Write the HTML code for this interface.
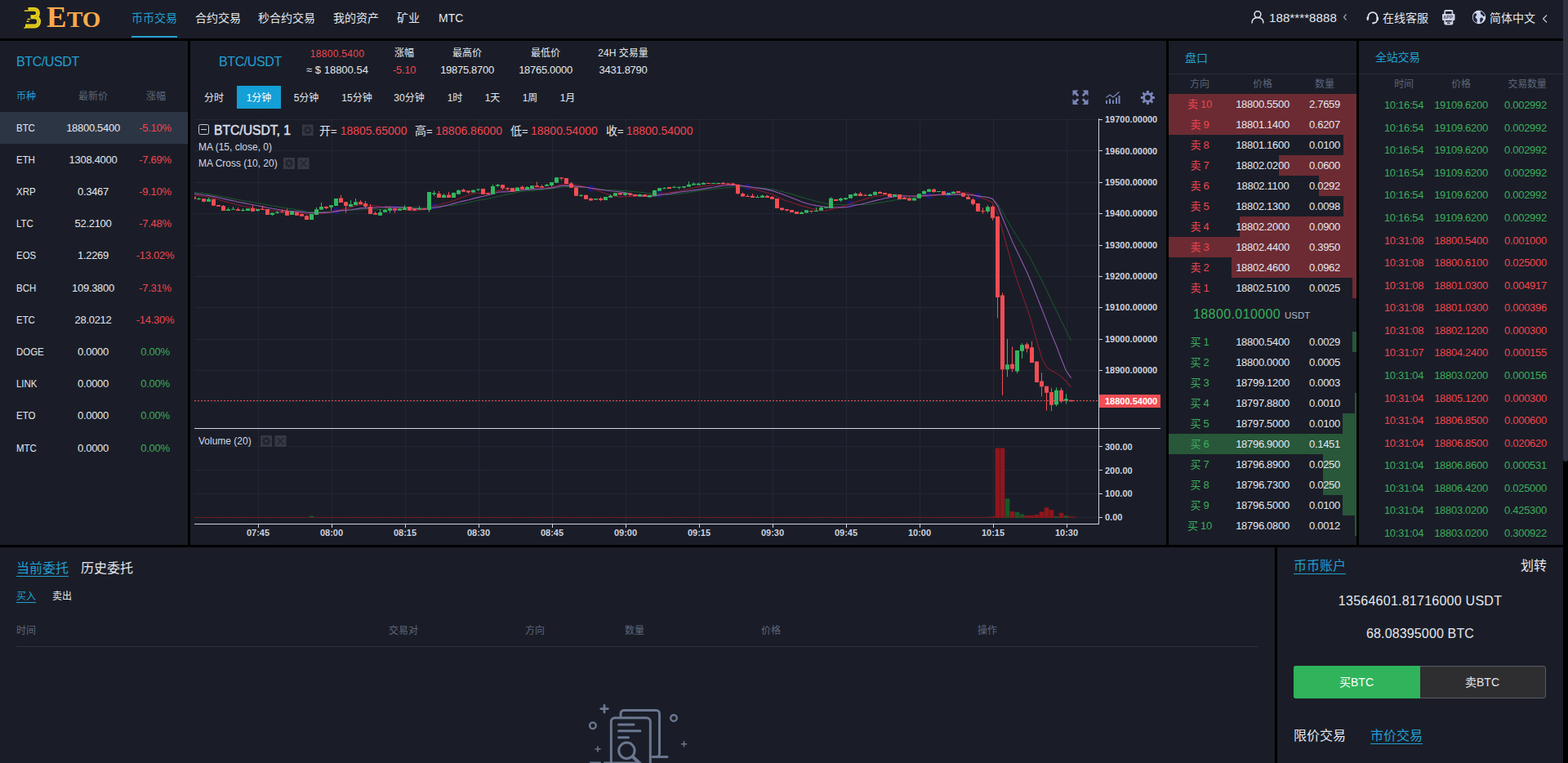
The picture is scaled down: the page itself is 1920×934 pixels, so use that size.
<!DOCTYPE html>
<html lang="zh"><head><meta charset="utf-8"><title>ETO</title>
<style>
*{box-sizing:border-box;margin:0;padding:0}
html,body{width:1920px;height:934px;overflow:hidden;background:#000}
body{font-family:"Liberation Sans","Noto Sans CJK SC",sans-serif;color:#e4e7ee;font-size:13px;position:relative}
.abs{position:absolute}
.pn{position:absolute;background:#1a1d27}
.t{position:absolute;white-space:nowrap;line-height:1}
.c{transform:translateX(-50%)}
.r{transform:translateX(-100%)}
.blue{color:#239fd3}
.red{color:#f0454f}
.grn{color:#3cad5c}
.gry{color:#5d667a}
.wht{color:#e4e7ee}
.u{border-bottom:1px solid #239fd3;padding-bottom:1px}
/* nav */
#nav .t{font-size:14px}
/* left list */
.row{position:absolute;left:0;width:230px;height:39px}
.row .t{top:13px;font-size:13px;letter-spacing:-.3px}
.row .nm{transform:scaleX(.88);transform-origin:0 50%;letter-spacing:0}
/* orderbook */
.ob{position:absolute;left:0;width:230px;height:25px}
.ob i{position:absolute;right:0;top:0;height:25px;display:block}
.ob .t{top:6px;font-size:13px;letter-spacing:-.3px}
.sell i{background:#6c2b33}
.buy i{background:#28573a}
.tr .t{font-size:13px;letter-spacing:-.3px}
</style></head>
<body>
<!-- ===== NAV ===== -->
<div id="nav" class="pn" style="left:0;top:0;width:1914px;height:47px">
<svg class="abs" style="left:26px;top:5px" width="28" height="34" viewBox="26 5 28 34" fill="none" stroke-linecap="butt"><path d="M34.5 11.4H42C48 11.4 48 20.3 42 20.8H37.5M42 20.8C49.5 21 49.5 32 42 32H31" stroke="#e6d01c" stroke-width="4.9"/><path d="M29.500 34.700l3-2.700M30 13.300h4.500M33.500 23.500h3.500M32.500 26.200h3" stroke="#e6d01c" stroke-width="1.400"/><path d="M36 11.400H42.500C47.500 11.400 47.500 20.600 42.500 20.800C48.800 21 48.800 32 42.500 32H33" stroke="#b79f10" stroke-width=".8"/></svg>
<span class="t" style="left:56.500px;top:3px;font-family:'Liberation Serif',serif;font-weight:bold;font-size:35px;color:#f9aa4e;line-height:38px;letter-spacing:.5px;transform:scaleX(1.05);transform-origin:0 0">E<span style="font-size:27.600px;letter-spacing:0">TO</span></span>

<span class="t blue" style="left:161px;top:15px">币币交易</span>
<div class="abs" style="left:161px;top:44px;width:56px;height:2px;background:#239fd3"></div>
<span class="t" style="left:239px;top:15px">合约交易</span>
<span class="t" style="left:316px;top:15px">秒合约交易</span>
<span class="t" style="left:408px;top:15px">我的资产</span>
<span class="t" style="left:486px;top:15px">矿业</span>
<span class="t" style="left:537px;top:15px;font-size:14px">MTC</span>
<svg class="abs" style="left:1530px;top:10px" width="22" height="24" viewBox="1530 10 22 24" fill="none" stroke="#dfe3ee" stroke-width="1.5"><circle cx="1540" cy="17.6" r="3.9"/><path d="M1533 28.6c0-4.6 3-7 7-7s7 2.4 7 7"/></svg>
<span class="t" style="left:1554px;top:14px;font-size:15px;letter-spacing:.1px">188****8888</span>
<svg class="abs" style="left:1643px;top:15px" width="8" height="12" viewBox="0 0 8 12" fill="none" stroke="#9aa0b0" stroke-width="1.2"><path d="M5.5 2.5L2.5 6l3 3.5"/></svg>
<svg class="abs" style="left:1672px;top:12px" width="18" height="20" viewBox="1672 11 18 20" fill="none" stroke="#dfe3ee" stroke-width="1.7"><path d="M1675.3 22v-2.4a5.5 5.5 0 0 1 11 0V23a4.5 4.5 0 0 1-4 4.2"/><rect x="1673.6" y="19.5" width="2.2" height="4.5" rx="1" fill="#dfe3ee" stroke="none"/><rect x="1685.8" y="19.5" width="2.2" height="4.5" rx="1" fill="#dfe3ee" stroke="none"/><circle cx="1681.6" cy="27.3" r="1.2" fill="#dfe3ee" stroke="none"/></svg>
<span class="t" style="left:1693px;top:15px">在线客服</span>
<svg class="abs" style="left:1764px;top:10px" width="20" height="22" viewBox="1764 10 20 22"><rect x="1768.3" y="12" width="11" height="18.5" rx="2" fill="#cdd2e6"/><rect x="1770" y="14" width="7.6" height="12.5" fill="#1a1d27"/><rect x="1766" y="17" width="15.5" height="8" rx="1" fill="#cdd2e6"/><path d="M1768 23l1.2-4 1.2 4M1772 23v-4h1.5a1 1 0 0 1 0 2.2h-1.5M1776 23v-4h1.5a1 1 0 0 1 0 2.2h-1.5" stroke="#3a4160" stroke-width=".8" fill="none"/><rect x="1772" y="27.6" width="3.6" height="1.2" fill="#1a1d27"/></svg>
<svg class="abs" style="left:1801px;top:11px" width="20" height="20" viewBox="1801 11 20 20"><circle cx="1811" cy="21" r="7.6" fill="#cdd5ee" stroke="#dfe3ee" stroke-width="1.2"/><path d="M1806 16.2c1.5-.3 2.6.6 2.2 2-.3 1.2-1.8 1.4-1.6 2.8.2 1.5 2 1.6 2.2 3.2.1 1.2-.5 2.6-.2 3.8-2.8-.8-5-3.600-5-7 0-1.900.9-3.600 2.400-4.800zM1812.500 13.800c2.800.5 5.400 2.800 5.800 6-1 .6-2.100.3-2.600-.600-.600-1.200-2.200-.8-2.600-2.100-.300-1.100.200-2.300-.600-3.300zM1813.200 21.500c1.200-.4 2.500.2 2.800 1.400.3 1.300-.7 2.300-1.500 3.300-.5.600-1 1.600-1.800 1.500-.7-1.900-.9-4.900.5-6.200z" fill="#1f2540"/></svg>
<span class="t" style="left:1824px;top:15px">简体中文</span>
<svg class="abs" style="left:1887px;top:16px" width="10" height="14" viewBox="0 0 10 14" fill="none" stroke="#c5cad6" stroke-width="1.2"><path d="M7 2.500L2.600 7l4.400 4.500"/></svg>

</div>
<!-- ===== LEFT ===== -->
<div id="left" class="pn" style="left:0;top:50px;width:230px;height:617px">
<span class="t blue" style="left:20px;top:18px;font-size:16px;letter-spacing:-.4px">BTC/USDT</span>
<span class="t blue" style="left:20px;top:62px;font-size:12px">币种</span>
<span class="t gry c" style="left:114px;top:62px;font-size:12px">最新价</span>
<span class="t gry c" style="left:191px;top:62px;font-size:12px">涨幅</span>
<div class="row" style="top:86.5px;background:#2c3544"><span class="t nm" style="left:20px">BTC</span><span class="t c" style="left:114px">18800.5400</span><span class="t c red" style="left:190px">-5.10%</span></div>
<div class="row" style="top:125.7px"><span class="t nm" style="left:20px">ETH</span><span class="t c" style="left:114px">1308.4000</span><span class="t c red" style="left:190px">-7.69%</span></div>
<div class="row" style="top:164.9px"><span class="t nm" style="left:20px">XRP</span><span class="t c" style="left:114px">0.3467</span><span class="t c red" style="left:190px">-9.10%</span></div>
<div class="row" style="top:204.1px"><span class="t nm" style="left:20px">LTC</span><span class="t c" style="left:114px">52.2100</span><span class="t c red" style="left:190px">-7.48%</span></div>
<div class="row" style="top:243.3px"><span class="t nm" style="left:20px">EOS</span><span class="t c" style="left:114px">1.2269</span><span class="t c red" style="left:190px">-13.02%</span></div>
<div class="row" style="top:282.5px"><span class="t nm" style="left:20px">BCH</span><span class="t c" style="left:114px">109.3800</span><span class="t c red" style="left:190px">-7.31%</span></div>
<div class="row" style="top:321.7px"><span class="t nm" style="left:20px">ETC</span><span class="t c" style="left:114px">28.0212</span><span class="t c red" style="left:190px">-14.30%</span></div>
<div class="row" style="top:360.9px"><span class="t nm" style="left:20px">DOGE</span><span class="t c" style="left:114px">0.0000</span><span class="t c grn" style="left:190px">0.00%</span></div>
<div class="row" style="top:400.1px"><span class="t nm" style="left:20px">LINK</span><span class="t c" style="left:114px">0.0000</span><span class="t c grn" style="left:190px">0.00%</span></div>
<div class="row" style="top:439.3px"><span class="t nm" style="left:20px">ETO</span><span class="t c" style="left:114px">0.0000</span><span class="t c grn" style="left:190px">0.00%</span></div>
<div class="row" style="top:478.5px"><span class="t nm" style="left:20px">MTC</span><span class="t c" style="left:114px">0.0000</span><span class="t c grn" style="left:190px">0.00%</span></div>

</div>
<!-- ===== CHART ===== -->
<div id="chart" class="pn" style="left:233px;top:50px;width:1195px;height:617px">
<span class="t blue" style="left:35px;top:18px;font-size:16px;letter-spacing:-.4px">BTC/USDT</span>
<span class="t c red" style="left:180px;top:9.5px;font-size:12px;letter-spacing:.3px">18800.5400</span><span class="t c" style="left:180px;top:29px">≈ $ 18800.54</span>
<span class="t c" style="left:262px;top:9px;font-size:12px">涨幅</span><span class="t c red" style="left:262px;top:29px;letter-spacing:-.3px">-5.10</span>
<span class="t c" style="left:339px;top:9px;font-size:12px">最高价</span><span class="t c " style="left:339px;top:29px;letter-spacing:-.3px">19875.8700</span>
<span class="t c" style="left:435px;top:9px;font-size:12px">最低价</span><span class="t c " style="left:435px;top:29px;letter-spacing:-.3px">18765.0000</span>
<span class="t c" style="left:530px;top:9px;font-size:12px">24H 交易量</span><span class="t c " style="left:530px;top:29px;letter-spacing:-.3px">3431.8790</span>
<div class="abs" style="left:57px;top:55px;width:54px;height:28px;background:#149fd6"></div>
<span class="t c" style="left:29px;top:64px;font-size:12px;color:#e4e7ee">分时</span>
<span class="t c" style="left:84px;top:64px;font-size:12px;color:#fff">1分钟</span>
<span class="t c" style="left:142px;top:64px;font-size:12px;color:#e4e7ee">5分钟</span>
<span class="t c" style="left:204px;top:64px;font-size:12px;color:#e4e7ee">15分钟</span>
<span class="t c" style="left:268px;top:64px;font-size:12px;color:#e4e7ee">30分钟</span>
<span class="t c" style="left:324px;top:64px;font-size:12px;color:#e4e7ee">1时</span>
<span class="t c" style="left:370px;top:64px;font-size:12px;color:#e4e7ee">1天</span>
<span class="t c" style="left:416px;top:64px;font-size:12px;color:#e4e7ee">1周</span>
<span class="t c" style="left:462px;top:64px;font-size:12px;color:#e4e7ee">1月</span>

<svg class="abs" style="left:0;top:0" width="1195" height="617" viewBox="233 50 1195 617" font-family="Liberation Sans, sans-serif">
<defs><clipPath id="cp"><rect x="238" y="145" width="1107" height="496"/></clipPath></defs>
<path d="M316 145V641M406 145V641M496 145V641M586 145V641M676 145V641M766 145V641M856 145V641M946 145V641M1036 145V641M1126 145V641M1216 145V641M1306 145V641M238 146.5H1345M238 184.9H1345M238 223.2H1345M238 261.6H1345M238 300.0H1345M238 338.4H1345M238 376.7H1345M238 415.1H1345M238 453.5H1345M238 491.8H1345M238 546.8H1345M238 575.7H1345M238 604.6H1345M238 633.5H1345" stroke="#232735" stroke-width="1" fill="none" shape-rendering="crispEdges"/>
<g clip-path="url(#cp)">
<circle cx="411.5" cy="258.0" r="4.2" fill="#1818a8" opacity=".6"/>
<circle cx="483.5" cy="255.4" r="4.2" fill="#1818a8" opacity=".6"/>
<circle cx="531.5" cy="252.6" r="4.2" fill="#1818a8" opacity=".6"/>
<circle cx="723.5" cy="230.5" r="4.2" fill="#1818a8" opacity=".6"/>
<circle cx="807.5" cy="237.6" r="4.2" fill="#1818a8" opacity=".6"/>
<circle cx="915.5" cy="229.1" r="4.2" fill="#1818a8" opacity=".6"/>
<circle cx="1041.5" cy="250.0" r="4.2" fill="#1818a8" opacity=".6"/>
<circle cx="1137.5" cy="239.6" r="4.2" fill="#1818a8" opacity=".6"/>
<circle cx="1161.5" cy="238.1" r="4.2" fill="#1818a8" opacity=".6"/>
<circle cx="1197.5" cy="240.4" r="4.2" fill="#1818a8" opacity=".6"/>
<path d="M237.5 235.3L243.5 236.0L249.5 236.9L255.5 237.6L261.5 238.6L267.5 239.7L273.5 241.0L279.5 242.1L285.5 243.3L291.5 244.5L297.5 245.6L303.5 246.5L309.5 247.7L315.5 248.6L321.5 249.6L327.5 250.8L333.5 251.9L339.5 252.9L345.5 253.9L351.5 255.0L357.5 255.8L363.5 256.8L369.5 257.7L375.5 259.0L381.5 259.5L387.5 259.6L393.5 259.4L399.5 259.3L405.5 259.1L411.5 258.4L417.5 257.9L423.5 257.8L429.5 257.3L435.5 256.9L441.5 256.5L447.5 256.0L453.5 256.1L459.5 256.3L465.5 256.3L471.5 255.9L477.5 255.8L483.5 255.4L489.5 255.0L495.5 254.2L501.5 254.0L507.5 254.1L513.5 254.2L519.5 254.3L525.5 253.4L531.5 253.1L537.5 252.8L543.5 252.2L549.5 251.8L555.5 251.2L561.5 250.3L567.5 249.4L573.5 248.1L579.5 246.6L585.5 245.2L591.5 244.2L597.5 243.4L603.5 241.9L609.5 240.4L615.5 239.2L621.5 237.9L627.5 236.8L633.5 235.5L639.5 234.3L645.5 234.0L651.5 233.5L657.5 232.9L663.5 232.4L669.5 231.6L675.5 230.9L681.5 230.2L687.5 229.3L693.5 228.8L699.5 228.7L705.5 229.1L711.5 229.1L717.5 229.4L723.5 230.3L729.5 231.1L735.5 231.8L741.5 232.3L747.5 232.6L753.5 232.9L759.5 233.3L765.5 233.6L771.5 234.2L777.5 234.8L783.5 235.2L789.5 235.9L795.5 236.7L801.5 237.5L807.5 238.1L813.5 238.4L819.5 238.4L825.5 237.9L831.5 237.4L837.5 236.6L843.5 235.6L849.5 234.7L855.5 233.7L861.5 232.8L867.5 232.1L873.5 231.5L879.5 230.7L885.5 230.2L891.5 229.5L897.5 228.8L903.5 228.8L909.5 228.8L915.5 228.9L921.5 229.3L927.5 229.9L933.5 230.3L939.5 230.9L945.5 231.6L951.5 232.9L957.5 234.4L963.5 236.0L969.5 237.7L975.5 239.6L981.5 241.4L987.5 243.0L993.5 244.8L999.5 246.5L1005.5 247.9L1011.5 249.3L1017.5 250.1L1023.5 250.6L1029.5 250.7L1035.5 250.8L1041.5 250.6L1047.5 250.3L1053.5 250.4L1059.5 250.3L1065.5 250.0L1071.5 249.0L1077.5 248.0L1083.5 247.0L1089.5 246.1L1095.5 244.9L1101.5 244.0L1107.5 243.4L1113.5 242.7L1119.5 241.9L1125.5 241.1L1131.5 240.1L1137.5 239.6L1143.5 239.0L1149.5 238.6L1155.5 238.4L1161.5 238.3L1167.5 238.2L1173.5 238.0L1179.5 238.0L1185.5 238.3L1191.5 239.1L1197.5 240.2L1203.5 241.2L1209.5 241.8L1215.5 243.3L1221.5 249.3L1227.5 259.7L1233.5 269.7L1239.5 280.1L1245.5 289.7L1251.5 299.2L1257.5 308.9L1263.5 319.4L1269.5 331.1L1275.5 342.8L1281.5 355.0L1287.5 368.1L1293.5 380.2L1299.5 392.7L1305.5 404.9L1311.5 417.0" stroke="#1a5a30" stroke-width="1" fill="none"/>
<path d="M237.5 238.9L243.5 239.6L249.5 240.7L255.5 241.3L261.5 242.7L267.5 244.2L273.5 246.1L279.5 247.7L285.5 249.3L291.5 251.0L297.5 252.3L303.5 253.5L309.5 254.7L315.5 255.9L321.5 256.4L327.5 257.5L333.5 257.7L339.5 258.0L345.5 258.5L351.5 259.0L357.5 259.2L363.5 260.1L369.5 260.7L375.5 262.0L381.5 262.5L387.5 261.8L393.5 261.1L399.5 260.6L405.5 259.8L411.5 257.7L417.5 256.6L423.5 255.4L429.5 253.9L435.5 251.8L441.5 250.6L447.5 250.2L453.5 251.2L459.5 251.9L465.5 252.8L471.5 254.2L477.5 254.9L483.5 255.4L489.5 256.0L495.5 256.7L501.5 257.5L507.5 257.9L513.5 257.2L519.5 256.6L525.5 254.1L531.5 252.0L537.5 250.7L543.5 248.8L549.5 247.5L555.5 245.7L561.5 243.2L567.5 240.9L573.5 239.0L579.5 236.6L585.5 236.3L591.5 236.4L597.5 236.0L603.5 234.9L609.5 233.4L615.5 232.8L621.5 232.7L627.5 232.7L633.5 232.0L639.5 231.9L645.5 231.7L651.5 230.6L657.5 229.7L663.5 229.8L669.5 229.8L675.5 229.1L681.5 227.7L687.5 226.0L693.5 225.6L699.5 225.4L705.5 226.5L711.5 227.6L717.5 229.1L723.5 230.7L729.5 232.4L735.5 234.6L741.5 237.0L747.5 239.1L753.5 240.3L759.5 241.1L765.5 240.8L771.5 240.8L777.5 240.4L783.5 239.7L789.5 239.4L795.5 238.8L801.5 238.0L807.5 237.1L813.5 236.5L819.5 235.7L825.5 235.0L831.5 234.0L837.5 232.8L843.5 231.6L849.5 230.0L855.5 228.6L861.5 227.7L867.5 227.1L873.5 226.5L879.5 225.8L885.5 225.4L891.5 225.1L897.5 224.9L903.5 226.0L909.5 227.6L915.5 229.2L921.5 231.0L927.5 232.7L933.5 234.2L939.5 236.0L945.5 237.8L951.5 240.8L957.5 243.8L963.5 245.9L969.5 247.8L975.5 249.9L981.5 251.7L987.5 253.4L993.5 255.3L999.5 256.9L1005.5 258.0L1011.5 257.8L1017.5 256.4L1023.5 255.2L1029.5 253.5L1035.5 251.6L1041.5 249.4L1047.5 247.3L1053.5 245.4L1059.5 243.6L1065.5 242.0L1071.5 240.2L1077.5 239.6L1083.5 238.8L1089.5 238.6L1095.5 238.1L1101.5 238.7L1107.5 239.4L1113.5 240.0L1119.5 240.3L1125.5 240.2L1131.5 240.1L1137.5 239.6L1143.5 239.3L1149.5 238.6L1155.5 238.6L1161.5 237.8L1167.5 236.9L1173.5 236.0L1179.5 235.8L1185.5 236.4L1191.5 238.0L1197.5 240.7L1203.5 243.1L1209.5 245.1L1215.5 247.9L1221.5 260.7L1227.5 282.4L1233.5 303.5L1239.5 324.6L1245.5 343.1L1251.5 360.3L1257.5 377.1L1263.5 395.6L1269.5 417.1L1275.5 437.7L1281.5 449.4L1287.5 453.8L1293.5 456.9L1299.5 460.9L1305.5 466.8L1311.5 473.7" stroke="#861c32" stroke-width="1.1" fill="none"/>
<path d="M237.5 237.1L243.5 237.8L249.5 238.7L255.5 239.4L261.5 240.6L267.5 241.8L273.5 243.2L279.5 244.6L285.5 245.8L291.5 247.2L297.5 248.4L303.5 249.5L309.5 250.8L315.5 251.8L321.5 252.9L327.5 254.2L333.5 255.3L339.5 256.2L345.5 257.3L351.5 258.1L357.5 258.5L363.5 258.9L369.5 259.4L375.5 260.3L381.5 260.6L387.5 260.5L393.5 260.4L399.5 260.1L405.5 259.8L411.5 258.9L417.5 257.9L423.5 257.3L429.5 256.7L435.5 255.9L441.5 254.9L447.5 254.6L453.5 254.4L459.5 254.3L465.5 253.7L471.5 253.4L477.5 253.3L483.5 253.6L489.5 253.6L495.5 253.8L501.5 254.8L507.5 255.4L513.5 255.6L519.5 256.1L525.5 255.2L531.5 254.3L537.5 253.6L543.5 252.1L549.5 250.7L555.5 249.1L561.5 247.5L567.5 246.1L573.5 244.7L579.5 243.1L585.5 241.6L591.5 240.3L597.5 239.0L603.5 237.2L609.5 235.2L615.5 234.9L621.5 234.6L627.5 234.1L633.5 233.4L639.5 232.7L645.5 232.3L651.5 231.9L657.5 231.5L663.5 231.1L669.5 230.7L675.5 230.1L681.5 228.7L687.5 227.4L693.5 227.2L699.5 227.4L705.5 228.1L711.5 228.6L717.5 229.2L723.5 230.2L729.5 231.0L735.5 232.1L741.5 233.0L747.5 233.7L753.5 234.2L759.5 235.0L765.5 235.9L771.5 237.3L777.5 238.7L783.5 239.6L789.5 240.3L795.5 240.3L801.5 239.9L807.5 239.0L813.5 238.0L819.5 237.2L825.5 236.1L831.5 235.3L837.5 234.5L843.5 233.8L849.5 232.9L855.5 232.1L861.5 231.1L867.5 230.1L873.5 229.2L879.5 228.1L885.5 227.2L891.5 226.7L897.5 226.4L903.5 226.8L909.5 227.5L915.5 228.3L921.5 229.2L927.5 230.1L933.5 230.9L939.5 232.1L945.5 233.4L951.5 235.4L957.5 237.6L963.5 239.8L969.5 242.2L975.5 244.6L981.5 246.9L987.5 249.0L993.5 250.5L999.5 251.6L1005.5 252.5L1011.5 253.3L1017.5 253.4L1023.5 253.8L1029.5 253.9L1035.5 253.8L1041.5 252.7L1047.5 251.3L1053.5 250.2L1059.5 248.8L1065.5 247.2L1071.5 245.6L1077.5 244.2L1083.5 242.8L1089.5 241.7L1095.5 240.6L1101.5 239.9L1107.5 240.0L1113.5 240.0L1119.5 240.0L1125.5 239.7L1131.5 239.4L1137.5 239.0L1143.5 238.7L1149.5 238.3L1155.5 238.3L1161.5 238.4L1167.5 238.3L1173.5 238.1L1179.5 238.1L1185.5 238.5L1191.5 238.9L1197.5 239.9L1203.5 240.8L1209.5 241.5L1215.5 243.5L1221.5 252.1L1227.5 266.8L1233.5 280.9L1239.5 295.4L1245.5 308.1L1251.5 320.5L1257.5 333.3L1263.5 347.2L1269.5 362.4L1275.5 377.7L1281.5 393.1L1287.5 408.9L1293.5 423.4L1299.5 439.3L1305.5 454.1L1311.5 462.6" stroke="#9558b2" stroke-width="1.1" fill="none"/>
<path d="M237.5 240.8V243.8M249.5 243.2V247.7M261.5 243.8V251.7M267.5 251.0V252.7M273.5 251.0V258.0M291.5 254.0V258.0M309.5 251.2V258.8M321.5 252.0V256.7M327.5 256.0V263.0M345.5 256.2V260.0M351.5 255.4V263.8M363.5 259.5V263.8M369.5 261.5V264.8M375.5 263.5V269.0M399.5 252.2V256.0M417.5 238.8V248.0M423.5 247.2V260.6M441.5 245.2V250.0M447.5 246.0V254.0M453.5 250.0V262.0M459.5 259.0V262.8M483.5 255.2V260.6M501.5 253.0V258.0M507.5 255.0V258.0M519.5 255.2V256.5M537.5 234.0V242.0M549.5 235.0V242.0M567.5 231.0V234.8M573.5 233.5V237.0M591.5 231.0V237.8M597.5 236.0V238.0M615.5 226.2V232.0M621.5 229.4V233.0M627.5 230.0V234.8M639.5 227.2V231.5M657.5 222.5V229.0M663.5 226.2V229.4M687.5 217.2V220.6M693.5 218.0V225.0M699.5 222.8V229.8M705.5 229.4V239.8M717.5 238.8V243.8M723.5 242.2V245.6M735.5 241.5V246.2M759.5 236.0V238.5M771.5 236.5V240.0M777.5 238.0V240.5M789.5 238.0V240.6M819.5 229.0V231.0M867.5 224.0V224.8M885.5 222.8V225.2M891.5 224.0V225.6M897.5 223.8V226.2M903.5 226.0V238.0M909.5 235.6V240.6M915.5 238.0V241.0M921.5 237.0V241.9M939.5 238.8V241.9M945.5 240.0V243.8M951.5 243.0V255.0M957.5 254.4V258.0M963.5 256.0V258.8M969.5 256.9V260.0M975.5 259.0V261.9M993.5 258.0V260.6M1023.5 244.0V246.0M1053.5 235.0V240.0M1059.5 237.5V239.8M1077.5 234.0V236.9M1083.5 236.0V238.0M1089.5 237.2V241.0M1101.5 238.0V243.8M1107.5 241.0V243.9M1113.5 241.4V245.6M1143.5 230.9V235.7M1155.5 234.1V238.3M1173.5 233.9V235.9M1179.5 236.2V240.7M1185.5 238.3V243.9M1191.5 242.5V251.5M1197.5 249.1V258.8M1203.5 254.3V261.6M1215.5 251.2V269.6M1221.5 265.0V389.4M1227.5 358.5V483.8M1239.5 424.4V455.3M1257.5 419.3V431.3M1263.5 417.8V443.9M1269.5 442.4V467.9M1275.5 456.2V485.3M1281.5 472.7V502.4M1287.5 474.8V503.3M1299.5 474.8V493.4M1311.5 489.8V491.3" stroke="#f44d54" stroke-width="1" fill="none"/>
<path d="M243.5 242.0V244.8M255.5 242.0V246.7M279.5 254.0V258.0M285.5 253.0V256.8M297.5 255.0V258.8M303.5 255.2V258.0M315.5 256.0V259.0M333.5 260.4V264.0M339.5 258.3V261.7M357.5 258.8V263.0M381.5 262.0V269.0M387.5 253.8V263.0M393.5 248.0V256.7M405.5 251.2V258.0M411.5 243.0V252.0M429.5 245.2V253.0M435.5 243.0V251.0M465.5 256.0V263.8M471.5 256.0V259.8M477.5 254.0V260.6M489.5 254.8V257.8M495.5 251.2V257.0M513.5 252.0V256.5M525.5 235.0V259.8M531.5 233.5V239.8M543.5 237.2V242.0M555.5 235.5V242.0M561.5 232.0V237.8M579.5 232.0V235.6M585.5 231.6V234.0M603.5 226.0V237.8M609.5 225.0V228.8M633.5 229.4V234.0M645.5 228.0V231.9M651.5 227.2V231.0M669.5 225.0V227.8M675.5 223.0V228.8M681.5 217.2V223.8M711.5 237.8V241.0M729.5 243.0V244.4M741.5 241.0V245.0M747.5 238.0V241.9M753.5 236.2V239.8M765.5 236.2V239.8M783.5 237.2V240.6M795.5 238.5V241.5M801.5 232.5V239.8M807.5 230.2V233.8M813.5 229.0V230.9M825.5 227.8V229.4M831.5 228.8V231.5M837.5 228.0V230.6M843.5 222.2V228.5M849.5 223.5V226.5M855.5 223.8V226.5M861.5 222.8V225.8M873.5 224.0V225.0M879.5 224.0V225.0M927.5 238.8V241.9M933.5 238.5V241.9M981.5 259.0V261.9M987.5 257.2V260.6M999.5 254.0V258.8M1005.5 252.2V257.8M1011.5 253.5V254.8M1017.5 241.5V255.0M1029.5 241.9V246.9M1035.5 242.2V245.0M1041.5 238.0V242.8M1047.5 235.6V239.8M1065.5 236.9V240.0M1071.5 234.0V238.8M1095.5 238.0V240.6M1119.5 242.1V245.6M1125.5 237.3V242.7M1131.5 233.1V237.6M1137.5 231.0V234.8M1149.5 233.9V235.0M1161.5 236.0V238.5M1167.5 234.1V236.9M1209.5 251.2V260.6M1233.5 414.9V461.3M1245.5 429.0V456.8M1251.5 420.2V438.8M1293.5 474.2V497.3M1305.5 482.3V494.3" stroke="#33b660" stroke-width="1" fill="none"/>
<path d="M235.0 240.8h5V243.8h-5zM247.0 243.2h5V246.8h-5zM259.0 243.8h5V251.7h-5zM265.0 251.0h5V252.7h-5zM271.0 252.0h5V258.0h-5zM289.0 256.2h5V258.0h-5zM307.0 255.0h5V258.8h-5zM319.0 255.8h5V256.8h-5zM325.0 256.0h5V263.0h-5zM343.0 259.2h5V260.2h-5zM349.0 258.3h5V263.8h-5zM361.0 260.0h5V263.8h-5zM367.0 262.0h5V264.8h-5zM373.0 264.2h5V269.0h-5zM397.0 253.0h5V255.0h-5zM415.0 242.5h5V248.0h-5zM421.0 247.2h5V252.0h-5zM439.0 247.2h5V250.0h-5zM445.0 249.0h5V253.0h-5zM451.0 253.0h5V262.0h-5zM457.0 261.0h5V262.8h-5zM481.0 255.2h5V257.5h-5zM499.0 253.0h5V257.5h-5zM505.0 255.6h5V257.5h-5zM517.0 255.2h5V256.5h-5zM535.0 237.0h5V242.0h-5zM547.0 238.5h5V242.0h-5zM565.0 232.2h5V234.8h-5zM571.0 233.5h5V235.6h-5zM589.0 231.0h5V237.8h-5zM595.0 236.5h5V238.0h-5zM613.0 226.2h5V230.6h-5zM619.0 230.0h5V231.2h-5zM625.0 230.0h5V234.8h-5zM637.0 228.8h5V231.5h-5zM655.0 227.2h5V229.0h-5zM661.0 228.0h5V229.4h-5zM685.0 217.2h5V218.5h-5zM691.0 218.0h5V225.0h-5zM697.0 224.4h5V229.8h-5zM703.0 229.4h5V239.8h-5zM715.0 238.8h5V243.8h-5zM721.0 243.0h5V245.6h-5zM733.0 243.0h5V245.0h-5zM757.0 236.0h5V238.5h-5zM769.0 236.5h5V238.8h-5zM775.0 238.0h5V240.0h-5zM787.0 238.0h5V240.6h-5zM817.0 229.0h5V231.0h-5zM865.0 224.0h5V225.0h-5zM883.0 224.0h5V225.2h-5zM889.0 224.8h5V225.8h-5zM895.0 224.8h5V226.2h-5zM901.0 226.0h5V236.9h-5zM907.0 236.9h5V240.6h-5zM913.0 240.0h5V241.0h-5zM919.0 239.8h5V241.9h-5zM937.0 239.8h5V241.9h-5zM943.0 241.0h5V243.8h-5zM949.0 243.0h5V255.0h-5zM955.0 254.4h5V256.9h-5zM961.0 256.0h5V257.5h-5zM967.0 256.9h5V260.0h-5zM973.0 259.0h5V261.9h-5zM991.0 258.0h5V259.0h-5zM1021.0 244.0h5V246.0h-5zM1051.0 236.9h5V240.0h-5zM1057.0 238.8h5V239.8h-5zM1075.0 235.0h5V236.9h-5zM1081.0 236.0h5V238.0h-5zM1087.0 237.2h5V241.0h-5zM1099.0 238.0h5V243.8h-5zM1105.0 241.8h5V243.9h-5zM1111.0 242.8h5V245.6h-5zM1141.0 231.7h5V235.0h-5zM1153.0 234.1h5V238.3h-5zM1171.0 233.9h5V235.9h-5zM1177.0 236.2h5V240.7h-5zM1183.0 240.9h5V243.9h-5zM1189.0 244.2h5V249.8h-5zM1195.0 249.1h5V258.8h-5zM1201.0 258.1h5V259.1h-5zM1213.0 252.9h5V266.8h-5zM1219.0 265.0h5V363.9h-5zM1225.0 361.5h5V452.3h-5zM1237.0 445.7h5V451.4h-5zM1255.0 421.4h5V426.8h-5zM1261.0 425.3h5V443.9h-5zM1267.0 442.4h5V467.9h-5zM1273.0 466.4h5V473.3h-5zM1279.0 472.7h5V480.8h-5zM1285.0 479.9h5V495.8h-5zM1297.0 477.8h5V491.3h-5zM1309.0 489.8h5V491.3h-5z" fill="#f44d54"/>
<path d="M241.0 242.9h5V243.9h-5zM253.0 243.8h5V246.7h-5zM277.0 256.2h5V258.0h-5zM283.0 255.8h5V256.8h-5zM295.0 257.0h5V258.0h-5zM301.0 255.2h5V258.0h-5zM313.0 256.0h5V258.0h-5zM331.0 260.4h5V263.0h-5zM337.0 259.6h5V260.8h-5zM355.0 258.8h5V263.0h-5zM379.0 262.0h5V269.0h-5zM385.0 256.2h5V263.0h-5zM391.0 253.0h5V256.7h-5zM403.0 251.2h5V253.8h-5zM409.0 243.0h5V252.0h-5zM427.0 250.0h5V253.0h-5zM433.0 247.2h5V251.0h-5zM463.0 260.0h5V263.8h-5zM469.0 257.0h5V259.8h-5zM475.0 255.0h5V257.8h-5zM487.0 255.6h5V257.8h-5zM493.0 254.4h5V257.0h-5zM511.0 255.0h5V256.5h-5zM523.0 235.0h5V257.0h-5zM529.0 236.2h5V237.8h-5zM541.0 238.8h5V242.0h-5zM553.0 236.0h5V242.0h-5zM559.0 233.0h5V237.8h-5zM577.0 232.8h5V235.6h-5zM583.0 231.6h5V232.6h-5zM601.0 228.0h5V237.8h-5zM607.0 226.2h5V227.8h-5zM631.0 229.4h5V234.0h-5zM643.0 229.0h5V231.9h-5zM649.0 227.2h5V231.0h-5zM667.0 226.0h5V227.8h-5zM673.0 223.0h5V226.9h-5zM679.0 217.2h5V223.8h-5zM709.0 238.8h5V239.8h-5zM727.0 243.0h5V244.4h-5zM739.0 241.0h5V245.0h-5zM745.0 239.8h5V241.9h-5zM751.0 236.2h5V239.8h-5zM763.0 236.2h5V238.8h-5zM781.0 238.0h5V240.6h-5zM793.0 239.0h5V241.5h-5zM799.0 233.0h5V239.8h-5zM805.0 230.2h5V233.8h-5zM811.0 230.2h5V231.2h-5zM823.0 228.8h5V229.8h-5zM829.0 228.8h5V229.8h-5zM835.0 228.0h5V229.4h-5zM841.0 226.0h5V228.5h-5zM847.0 224.8h5V226.5h-5zM853.0 224.8h5V226.5h-5zM859.0 224.0h5V225.8h-5zM871.0 224.0h5V225.0h-5zM877.0 224.0h5V225.0h-5zM925.0 241.0h5V242.0h-5zM931.0 239.4h5V241.9h-5zM979.0 260.0h5V261.9h-5zM985.0 257.2h5V260.6h-5zM997.0 258.0h5V259.0h-5zM1003.0 254.0h5V257.8h-5zM1009.0 253.5h5V254.8h-5zM1015.0 242.8h5V255.0h-5zM1027.0 243.0h5V245.6h-5zM1033.0 242.2h5V244.0h-5zM1039.0 238.0h5V242.8h-5zM1045.0 236.9h5V239.8h-5zM1063.0 237.9h5V240.0h-5zM1069.0 235.0h5V238.8h-5zM1093.0 238.0h5V240.6h-5zM1117.0 242.8h5V245.6h-5zM1123.0 237.3h5V242.7h-5zM1129.0 233.9h5V237.6h-5zM1135.0 231.7h5V234.8h-5zM1147.0 233.9h5V235.0h-5zM1159.0 236.0h5V238.5h-5zM1165.0 234.8h5V236.9h-5zM1207.0 253.3h5V258.8h-5zM1231.0 446.3h5V452.3h-5zM1243.0 429.0h5V454.4h-5zM1249.0 422.3h5V429.8h-5zM1291.0 477.8h5V495.2h-5zM1303.0 488.3h5V490.4h-5z" fill="#33b660"/>
<path d="M234.7 633.6h5.6V634h-5.6zM246.7 633.5h5.6V634h-5.6zM258.7 633.8h5.6V634h-5.6zM264.7 633.3h5.6V634h-5.6zM270.7 633.8h5.6V634h-5.6zM288.7 633.8h5.6V634h-5.6zM306.7 633.8h5.6V634h-5.6zM318.7 633.5h5.6V634h-5.6zM324.7 633.5h5.6V634h-5.6zM342.7 633.8h5.6V634h-5.6zM348.7 633.3h5.6V634h-5.6zM360.7 633.8h5.6V634h-5.6zM366.7 633.3h5.6V634h-5.6zM372.7 633.8h5.6V634h-5.6zM396.7 633.3h5.6V634h-5.6zM414.7 633.8h5.6V634h-5.6zM420.7 633.2h5.6V634h-5.6zM438.7 633.7h5.6V634h-5.6zM444.7 633.6h5.6V634h-5.6zM450.7 633.5h5.6V634h-5.6zM456.7 633.7h5.6V634h-5.6zM480.7 633.6h5.6V634h-5.6zM498.7 633.8h5.6V634h-5.6zM504.7 633.3h5.6V634h-5.6zM516.7 633.7h5.6V634h-5.6zM534.7 633.3h5.6V634h-5.6zM546.7 633.3h5.6V634h-5.6zM564.7 633.7h5.6V634h-5.6zM570.7 633.5h5.6V634h-5.6zM588.7 633.6h5.6V634h-5.6zM594.7 633.5h5.6V634h-5.6zM612.7 633.6h5.6V634h-5.6zM618.7 633.6h5.6V634h-5.6zM624.7 633.7h5.6V634h-5.6zM636.7 633.7h5.6V634h-5.6zM654.7 633.6h5.6V634h-5.6zM660.7 633.3h5.6V634h-5.6zM684.7 633.6h5.6V634h-5.6zM690.7 633.3h5.6V634h-5.6zM696.7 633.8h5.6V634h-5.6zM702.7 633.8h5.6V634h-5.6zM714.7 633.5h5.6V634h-5.6zM720.7 633.7h5.6V634h-5.6zM732.7 633.7h5.6V634h-5.6zM756.7 633.8h5.6V634h-5.6zM768.7 633.3h5.6V634h-5.6zM774.7 633.6h5.6V634h-5.6zM786.7 633.6h5.6V634h-5.6zM816.7 633.8h5.6V634h-5.6zM864.7 633.5h5.6V634h-5.6zM882.7 633.6h5.6V634h-5.6zM888.7 633.8h5.6V634h-5.6zM894.7 633.5h5.6V634h-5.6zM900.7 633.6h5.6V634h-5.6zM906.7 633.7h5.6V634h-5.6zM912.7 633.3h5.6V634h-5.6zM918.7 633.8h5.6V634h-5.6zM936.7 633.7h5.6V634h-5.6zM942.7 633.6h5.6V634h-5.6zM948.7 633.7h5.6V634h-5.6zM954.7 633.7h5.6V634h-5.6zM960.7 633.5h5.6V634h-5.6zM966.7 633.5h5.6V634h-5.6zM972.7 633.5h5.6V634h-5.6zM990.7 633.5h5.6V634h-5.6zM1020.7 633.5h5.6V634h-5.6zM1050.7 633.5h5.6V634h-5.6zM1056.7 633.7h5.6V634h-5.6zM1074.7 633.7h5.6V634h-5.6zM1080.7 633.7h5.6V634h-5.6zM1086.7 633.7h5.6V634h-5.6zM1098.7 633.8h5.6V634h-5.6zM1104.7 633.5h5.6V634h-5.6zM1110.7 633.3h5.6V634h-5.6zM1140.7 633.7h5.6V634h-5.6zM1152.7 633.3h5.6V634h-5.6zM1170.7 633.3h5.6V634h-5.6zM1176.7 633.6h5.6V634h-5.6zM1182.7 633.7h5.6V634h-5.6zM1188.7 633.3h5.6V634h-5.6zM1194.7 633.3h5.6V634h-5.6zM1200.7 633.8h5.6V634h-5.6zM1212.7 633.3h5.6V634h-5.6zM1218.7 548.4h5.6V634h-5.6zM1224.7 548.4h5.6V634h-5.6zM1236.7 626.0h5.6V634h-5.6zM1254.7 631.0h5.6V634h-5.6zM1260.7 631.0h5.6V634h-5.6zM1266.7 630.0h5.6V634h-5.6zM1272.7 626.6h5.6V634h-5.6zM1278.7 621.2h5.6V634h-5.6zM1284.7 624.3h5.6V634h-5.6zM1296.7 627.7h5.6V634h-5.6zM1308.7 633.0h5.6V634h-5.6z" fill="#8f161d"/>
<path d="M240.7 633.7h5.6V634h-5.6zM252.7 633.8h5.6V634h-5.6zM276.7 633.6h5.6V634h-5.6zM282.7 633.3h5.6V634h-5.6zM294.7 633.3h5.6V634h-5.6zM300.7 633.7h5.6V634h-5.6zM312.7 633.8h5.6V634h-5.6zM330.7 633.8h5.6V634h-5.6zM336.7 633.7h5.6V634h-5.6zM354.7 633.5h5.6V634h-5.6zM378.7 631.6h5.6V634h-5.6zM384.7 633.3h5.6V634h-5.6zM390.7 633.8h5.6V634h-5.6zM402.7 633.3h5.6V634h-5.6zM408.7 633.5h5.6V634h-5.6zM426.7 633.8h5.6V634h-5.6zM432.7 633.2h5.6V634h-5.6zM462.7 633.3h5.6V634h-5.6zM468.7 633.8h5.6V634h-5.6zM474.7 633.3h5.6V634h-5.6zM486.7 633.3h5.6V634h-5.6zM492.7 633.7h5.6V634h-5.6zM510.7 633.3h5.6V634h-5.6zM522.7 633.6h5.6V634h-5.6zM528.7 633.8h5.6V634h-5.6zM540.7 633.8h5.6V634h-5.6zM552.7 633.8h5.6V634h-5.6zM558.7 633.3h5.6V634h-5.6zM576.7 633.3h5.6V634h-5.6zM582.7 633.5h5.6V634h-5.6zM600.7 633.3h5.6V634h-5.6zM606.7 633.5h5.6V634h-5.6zM630.7 633.7h5.6V634h-5.6zM642.7 633.8h5.6V634h-5.6zM648.7 633.3h5.6V634h-5.6zM666.7 633.5h5.6V634h-5.6zM672.7 633.6h5.6V634h-5.6zM678.7 633.5h5.6V634h-5.6zM708.7 633.3h5.6V634h-5.6zM726.7 633.6h5.6V634h-5.6zM738.7 633.5h5.6V634h-5.6zM744.7 633.5h5.6V634h-5.6zM750.7 633.8h5.6V634h-5.6zM762.7 633.3h5.6V634h-5.6zM780.7 633.6h5.6V634h-5.6zM792.7 633.3h5.6V634h-5.6zM798.7 633.5h5.6V634h-5.6zM804.7 633.3h5.6V634h-5.6zM810.7 633.5h5.6V634h-5.6zM822.7 633.8h5.6V634h-5.6zM828.7 633.6h5.6V634h-5.6zM834.7 633.5h5.6V634h-5.6zM840.7 633.8h5.6V634h-5.6zM846.7 633.8h5.6V634h-5.6zM852.7 633.6h5.6V634h-5.6zM858.7 633.3h5.6V634h-5.6zM870.7 633.6h5.6V634h-5.6zM876.7 633.5h5.6V634h-5.6zM924.7 633.5h5.6V634h-5.6zM930.7 633.8h5.6V634h-5.6zM978.7 633.8h5.6V634h-5.6zM984.7 633.7h5.6V634h-5.6zM996.7 633.5h5.6V634h-5.6zM1002.7 633.3h5.6V634h-5.6zM1008.7 633.6h5.6V634h-5.6zM1014.7 633.7h5.6V634h-5.6zM1026.7 633.3h5.6V634h-5.6zM1032.7 633.6h5.6V634h-5.6zM1038.7 633.5h5.6V634h-5.6zM1044.7 633.6h5.6V634h-5.6zM1062.7 633.7h5.6V634h-5.6zM1068.7 633.8h5.6V634h-5.6zM1092.7 633.7h5.6V634h-5.6zM1116.7 633.7h5.6V634h-5.6zM1122.7 633.6h5.6V634h-5.6zM1128.7 633.6h5.6V634h-5.6zM1134.7 633.8h5.6V634h-5.6zM1146.7 633.5h5.6V634h-5.6zM1158.7 633.6h5.6V634h-5.6zM1164.7 633.3h5.6V634h-5.6zM1206.7 633.5h5.6V634h-5.6zM1230.7 610.3h5.6V634h-5.6zM1242.7 627.0h5.6V634h-5.6zM1248.7 629.4h5.6V634h-5.6zM1290.7 632.0h5.6V634h-5.6zM1302.7 631.0h5.6V634h-5.6z" fill="#155a28"/>
<path d="M238 633.4H1205L1216 632.6L1222 632.2H1318" stroke="#7a1822" stroke-width="1" fill="none" opacity=".8"/>
</g>
<path d="M238 490.5H1345" stroke="#f44d54" stroke-width="1" stroke-dasharray="2 2" shape-rendering="crispEdges"/>
<path d="M1345.5 145V641M238 641.5H1346M238 524.5H1421" stroke="#cfd3e0" stroke-width="1" fill="none" shape-rendering="crispEdges"/>
<path d="M1346 146.5h4M1346 184.9h4M1346 223.2h4M1346 261.6h4M1346 300.0h4M1346 338.4h4M1346 376.7h4M1346 415.1h4M1346 453.5h4M1346 491.8h4M1346 546.8h4M1346 575.7h4M1346 604.6h4M1346 633.5h4M316.5 642v4M406.5 642v4M496.5 642v4M586.5 642v4M676.5 642v4M766.5 642v4M856.5 642v4M946.5 642v4M1036.5 642v4M1126.5 642v4M1216.5 642v4M1306.5 642v4" stroke="#cfd3e0" stroke-width="1" fill="none" shape-rendering="crispEdges"/>
<g font-size="11" font-weight="bold" fill="#cdd1de">
<text x="1353" y="150.1">19700.00000</text>
<text x="1353" y="188.5">19600.00000</text>
<text x="1353" y="226.8">19500.00000</text>
<text x="1353" y="265.2">19400.00000</text>
<text x="1353" y="303.6">19300.00000</text>
<text x="1353" y="342.0">19200.00000</text>
<text x="1353" y="380.3">19100.00000</text>
<text x="1353" y="418.7">19000.00000</text>
<text x="1353" y="457.1">18900.00000</text>
<text x="1353" y="495.4">18800.00000</text>
<text x="1353" y="550.6">300.00</text>
<text x="1353" y="579.5">200.00</text>
<text x="1353" y="608.4">100.00</text>
<text x="1353" y="637.3">0.00</text>
<text x="316" y="656" text-anchor="middle">07:45</text>
<text x="406" y="656" text-anchor="middle">08:00</text>
<text x="496" y="656" text-anchor="middle">08:15</text>
<text x="586" y="656" text-anchor="middle">08:30</text>
<text x="676" y="656" text-anchor="middle">08:45</text>
<text x="766" y="656" text-anchor="middle">09:00</text>
<text x="856" y="656" text-anchor="middle">09:15</text>
<text x="946" y="656" text-anchor="middle">09:30</text>
<text x="1036" y="656" text-anchor="middle">09:45</text>
<text x="1126" y="656" text-anchor="middle">10:00</text>
<text x="1216" y="656" text-anchor="middle">10:15</text>
<text x="1306" y="656" text-anchor="middle">10:30</text>
</g>
<rect x="1346" y="483" width="75" height="16" fill="#f44d54"/>
<text x="1353" y="495" font-size="11" font-weight="bold" fill="#fff">18800.54000</text>
<rect x="243.5" y="152.5" width="12" height="12" rx="2" fill="none" stroke="#c9cdd9" stroke-width="1"/><path d="M246 158.5h7" stroke="#c9cdd9" stroke-width="1" shape-rendering="crispEdges"/>
<text x="262" y="165" font-size="16" fill="#d6dae6" stroke="#d6dae6" stroke-width=".55" textLength="94" lengthAdjust="spacingAndGlyphs">BTC/USDT, 1</text>
<rect x="370" y="152.5" width="13.5" height="13.5" fill="#363943"/><path fill-rule="evenodd" fill="#20232c" d="M381.8 158.2 L381.8 160.3 L380.4 160.4 L380.1 161.0 L381.1 162.1 L379.6 163.6 L378.5 162.6 L377.9 162.9 L377.8 164.3 L375.7 164.3 L375.6 162.9 L375.0 162.6 L373.9 163.6 L372.4 162.1 L373.4 161.0 L373.1 160.4 L371.7 160.3 L371.7 158.2 L373.1 158.1 L373.4 157.5 L372.4 156.4 L373.9 154.9 L375.0 155.9 L375.6 155.6 L375.7 154.2 L377.8 154.2 L377.9 155.6 L378.5 155.9 L379.6 154.9 L381.1 156.4 L380.1 157.5 L380.4 158.1 z M374.9 159.2a1.9 1.9 0 1 0 3.8 0a1.9 1.9 0 1 0 -3.8 0z"/>
<rect x="347" y="193" width="14" height="14" fill="#363943"/><path fill-rule="evenodd" fill="#20232c" d="M359.1 199.0 L359.1 201.0 L357.6 201.1 L357.4 201.8 L358.3 202.9 L356.9 204.3 L355.8 203.4 L355.1 203.6 L355.0 205.1 L353.0 205.1 L352.9 203.6 L352.2 203.4 L351.1 204.3 L349.7 202.9 L350.6 201.8 L350.4 201.1 L348.9 201.0 L348.9 199.0 L350.4 198.9 L350.6 198.2 L349.7 197.1 L351.1 195.7 L352.2 196.6 L352.9 196.4 L353.0 194.9 L355.0 194.9 L355.1 196.4 L355.8 196.6 L356.9 195.7 L358.3 197.1 L357.4 198.2 L357.6 198.9 z M352.1 200.0a1.9 1.9 0 1 0 3.8 0a1.9 1.9 0 1 0 -3.8 0z"/>
<rect x="364.5" y="193" width="14" height="14" fill="#363943"/><path d="M367.5 196l8 8M375.5 196l-8 8" stroke="#23262f" stroke-width="1.6" fill="none"/>
<rect x="319" y="533" width="14" height="14" fill="#363943"/><path fill-rule="evenodd" fill="#20232c" d="M331.1 539.0 L331.1 541.0 L329.6 541.1 L329.4 541.8 L330.3 542.9 L328.9 544.3 L327.8 543.4 L327.1 543.6 L327.0 545.1 L325.0 545.1 L324.9 543.6 L324.2 543.4 L323.1 544.3 L321.7 542.9 L322.6 541.8 L322.4 541.1 L320.9 541.0 L320.9 539.0 L322.4 538.9 L322.6 538.2 L321.7 537.1 L323.1 535.7 L324.2 536.6 L324.9 536.4 L325.0 534.9 L327.0 534.9 L327.1 536.4 L327.8 536.6 L328.9 535.7 L330.3 537.1 L329.4 538.2 L329.6 538.9 z M324.1 540.0a1.9 1.9 0 1 0 3.8 0a1.9 1.9 0 1 0 -3.8 0z"/>
<rect x="336.5" y="533" width="14" height="14" fill="#363943"/><path d="M339.5 536l8 8M347.5 536l-8 8" stroke="#23262f" stroke-width="1.6" fill="none"/>
<g font-size="12" fill="#d5d9e6"><text x="243" y="184">MA (15, close, 0)</text><text x="243" y="204">MA Cross (10, 20)</text><text x="243" y="544">Volume (20)</text></g>
<g font-size="14" fill="#f0454f">
<text x="416.7" y="165">18805.65000</text>
<text x="533.3" y="165">18806.86000</text>
<text x="650.0" y="165">18800.54000</text>
<text x="766.7" y="165">18800.54000</text>
</g>
<g fill="#7985b9"><path d="M1313.5 110.5h7l-2.5 2.5 3.2 3.2-2 2-3.2-3.2-2.5 2.5z"/><path d="M1332.5 110.5v7l-2.5-2.5-3.2 3.2-2-2 3.2-3.2-2.5-2.5z"/><path d="M1313.5 128v-7l2.5 2.5 3.2-3.2 2 2-3.2 3.2 2.5 2.5z"/><path d="M1332.5 128h-7l2.5-2.5-3.2-3.2 2-2 3.2 3.2 2.5-2.5z"/></g>
<g fill="#7985b9"><rect x="1354" y="123" width="2" height="4"/><rect x="1358" y="121" width="2" height="6"/><rect x="1362" y="122.5" width="2" height="4.5"/><rect x="1366" y="119.5" width="2" height="7.5"/><rect x="1369.5" y="117" width="2" height="10"/></g><path d="M1354.5 119.5l4.5-3.5 4 3 7.5-6.5" stroke="#7985b9" stroke-width="1.3" fill="none"/>
<path fill-rule="evenodd" fill="#7985b9" d="M1413.9 118.0 L1413.9 121.0 L1411.4 121.0 L1410.7 122.7 L1412.4 124.5 L1410.4 126.5 L1408.6 124.8 L1406.9 125.5 L1406.9 128.0 L1403.9 128.0 L1403.9 125.5 L1402.2 124.8 L1400.4 126.5 L1398.4 124.5 L1400.1 122.7 L1399.4 121.0 L1396.9 121.0 L1396.9 118.0 L1399.4 118.0 L1400.1 116.3 L1398.4 114.5 L1400.4 112.5 L1402.2 114.2 L1403.9 113.5 L1403.9 111.0 L1406.9 111.0 L1406.9 113.5 L1408.6 114.2 L1410.4 112.5 L1412.4 114.5 L1410.7 116.3 L1411.4 118.0 z M1402.1 119.5a3.3 3.3 0 1 0 6.6 0a3.3 3.3 0 1 0 -6.6 0z"/>
</svg><span class="t" style="left:158px;top:103px;font-size:14px">开<span style="font-size:13px;letter-spacing:-1px">=</span></span><span class="t" style="left:275px;top:103px;font-size:14px">高<span style="font-size:13px;letter-spacing:-1px">=</span></span><span class="t" style="left:392px;top:103px;font-size:14px">低<span style="font-size:13px;letter-spacing:-1px">=</span></span><span class="t" style="left:509px;top:103px;font-size:14px">收<span style="font-size:13px;letter-spacing:-1px">=</span></span>
</div>
<!-- ===== ORDERBOOK ===== -->
<div id="book" class="pn" style="left:1431px;top:50px;width:230px;height:617px">
<span class="t blue" style="left:20px;top:14px;font-size:14px">盘口</span>
<div class="abs" style="left:0;top:40px;width:230px;height:1px;background:#2b2f3b"></div>
<span class="t gry c" style="left:38px;top:47px;font-size:12px">方向</span><span class="t gry c" style="left:115px;top:47px;font-size:12px">价格</span><span class="t gry c" style="left:191px;top:47px;font-size:12px">数量</span>
<div class="ob sell" style="top:65px"><i style="width:230px"></i><span class="t c red" style="left:38px">卖 10</span><span class="t c" style="left:115px">18800.5500</span><span class="t c" style="left:191px">2.7659</span></div>
<div class="ob sell" style="top:90px"><i style="width:230px"></i><span class="t c red" style="left:38px">卖 9</span><span class="t c" style="left:115px">18801.1400</span><span class="t c" style="left:191px">0.6207</span></div>
<div class="ob sell" style="top:115px"><i style="width:16px"></i><span class="t c red" style="left:38px">卖 8</span><span class="t c" style="left:115px">18801.1600</span><span class="t c" style="left:191px">0.0100</span></div>
<div class="ob sell" style="top:140px"><i style="width:95px"></i><span class="t c red" style="left:38px">卖 7</span><span class="t c" style="left:115px">18802.0200</span><span class="t c" style="left:191px">0.0600</span></div>
<div class="ob sell" style="top:165px"><i style="width:46px"></i><span class="t c red" style="left:38px">卖 6</span><span class="t c" style="left:115px">18802.1100</span><span class="t c" style="left:191px">0.0292</span></div>
<div class="ob sell" style="top:190px"><i style="width:16px"></i><span class="t c red" style="left:38px">卖 5</span><span class="t c" style="left:115px">18802.1300</span><span class="t c" style="left:191px">0.0098</span></div>
<div class="ob sell" style="top:215px"><i style="width:143px"></i><span class="t c red" style="left:38px">卖 4</span><span class="t c" style="left:115px">18802.2000</span><span class="t c" style="left:191px">0.0900</span></div>
<div class="ob sell" style="top:240px"><i style="width:230px"></i><span class="t c red" style="left:38px">卖 3</span><span class="t c" style="left:115px">18802.4400</span><span class="t c" style="left:191px">0.3950</span></div>
<div class="ob sell" style="top:265px"><i style="width:153px"></i><span class="t c red" style="left:38px">卖 2</span><span class="t c" style="left:115px">18802.4600</span><span class="t c" style="left:191px">0.0962</span></div>
<div class="ob sell" style="top:290px"><i style="width:5px"></i><span class="t c red" style="left:38px">卖 1</span><span class="t c" style="left:115px">18802.5100</span><span class="t c" style="left:191px">0.0025</span></div>
<span class="t grn" style="left:30px;top:327px;font-size:16px;letter-spacing:.4px">18800.010000 <span class="wht" style="font-size:11.5px;color:#b4b9c4;letter-spacing:0">USDT</span></span>
<div class="ob buy" style="top:356px"><i style="width:5px"></i><span class="t c grn" style="left:38px">买 1</span><span class="t c" style="left:115px">18800.5400</span><span class="t c" style="left:191px">0.0029</span></div>
<div class="ob buy" style="top:381px"><i style="width:0px"></i><span class="t c grn" style="left:38px">买 2</span><span class="t c" style="left:115px">18800.0000</span><span class="t c" style="left:191px">0.0005</span></div>
<div class="ob buy" style="top:406px"><i style="width:0px"></i><span class="t c grn" style="left:38px">买 3</span><span class="t c" style="left:115px">18799.1200</span><span class="t c" style="left:191px">0.0003</span></div>
<div class="ob buy" style="top:431px"><i style="width:2px"></i><span class="t c grn" style="left:38px">买 4</span><span class="t c" style="left:115px">18797.8800</span><span class="t c" style="left:191px">0.0010</span></div>
<div class="ob buy" style="top:456px"><i style="width:17px"></i><span class="t c grn" style="left:38px">买 5</span><span class="t c" style="left:115px">18797.5000</span><span class="t c" style="left:191px">0.0100</span></div>
<div class="ob buy" style="top:481px"><i style="width:230px"></i><span class="t c grn" style="left:38px">买 6</span><span class="t c" style="left:115px">18796.9000</span><span class="t c" style="left:191px">0.1451</span></div>
<div class="ob buy" style="top:506px"><i style="width:41px"></i><span class="t c grn" style="left:38px">买 7</span><span class="t c" style="left:115px">18796.8900</span><span class="t c" style="left:191px">0.0250</span></div>
<div class="ob buy" style="top:531px"><i style="width:41px"></i><span class="t c grn" style="left:38px">买 8</span><span class="t c" style="left:115px">18796.7300</span><span class="t c" style="left:191px">0.0250</span></div>
<div class="ob buy" style="top:556px"><i style="width:17px"></i><span class="t c grn" style="left:38px">买 9</span><span class="t c" style="left:115px">18796.5000</span><span class="t c" style="left:191px">0.0100</span></div>
<div class="ob buy" style="top:581px"><i style="width:2px"></i><span class="t c grn" style="left:38px">买 10</span><span class="t c" style="left:115px">18796.0800</span><span class="t c" style="left:191px">0.0012</span></div>

</div>
<!-- ===== TRADES ===== -->
<div id="trades" class="pn tr" style="left:1664px;top:50px;width:250px;height:617px">
<span class="t blue" style="left:20px;top:13px;font-size:14px">全站交易</span>
<div class="abs" style="left:0;top:40px;width:250px;height:1px;background:#2b2f3b"></div>
<span class="t gry c" style="left:55px;top:47px;font-size:12px">时间</span><span class="t gry c" style="left:125px;top:47px;font-size:12px">价格</span><span class="t gry c" style="left:206px;top:47px;font-size:12px">交易数量</span>
<span class="t c grn" style="left:55px;top:72.0px">10:16:54</span><span class="t c grn" style="left:125px;top:72.0px">19109.6200</span><span class="t c grn" style="left:204px;top:72.0px">0.002992</span>
<span class="t c grn" style="left:55px;top:99.6px">10:16:54</span><span class="t c grn" style="left:125px;top:99.6px">19109.6200</span><span class="t c grn" style="left:204px;top:99.6px">0.002992</span>
<span class="t c grn" style="left:55px;top:127.2px">10:16:54</span><span class="t c grn" style="left:125px;top:127.2px">19109.6200</span><span class="t c grn" style="left:204px;top:127.2px">0.002992</span>
<span class="t c grn" style="left:55px;top:154.7px">10:16:54</span><span class="t c grn" style="left:125px;top:154.7px">19109.6200</span><span class="t c grn" style="left:204px;top:154.7px">0.002992</span>
<span class="t c grn" style="left:55px;top:182.3px">10:16:54</span><span class="t c grn" style="left:125px;top:182.3px">19109.6200</span><span class="t c grn" style="left:204px;top:182.3px">0.002992</span>
<span class="t c grn" style="left:55px;top:209.9px">10:16:54</span><span class="t c grn" style="left:125px;top:209.9px">19109.6200</span><span class="t c grn" style="left:204px;top:209.9px">0.002992</span>
<span class="t c red" style="left:55px;top:237.5px">10:31:08</span><span class="t c red" style="left:125px;top:237.5px">18800.5400</span><span class="t c red" style="left:204px;top:237.5px">0.001000</span>
<span class="t c red" style="left:55px;top:265.1px">10:31:08</span><span class="t c red" style="left:125px;top:265.1px">18800.6100</span><span class="t c red" style="left:204px;top:265.1px">0.025000</span>
<span class="t c red" style="left:55px;top:292.6px">10:31:08</span><span class="t c red" style="left:125px;top:292.6px">18801.0300</span><span class="t c red" style="left:204px;top:292.6px">0.004917</span>
<span class="t c red" style="left:55px;top:320.2px">10:31:08</span><span class="t c red" style="left:125px;top:320.2px">18801.0300</span><span class="t c red" style="left:204px;top:320.2px">0.000396</span>
<span class="t c red" style="left:55px;top:347.8px">10:31:08</span><span class="t c red" style="left:125px;top:347.8px">18802.1200</span><span class="t c red" style="left:204px;top:347.8px">0.000300</span>
<span class="t c red" style="left:55px;top:375.4px">10:31:07</span><span class="t c red" style="left:125px;top:375.4px">18804.2400</span><span class="t c red" style="left:204px;top:375.4px">0.000155</span>
<span class="t c grn" style="left:55px;top:403.0px">10:31:04</span><span class="t c grn" style="left:125px;top:403.0px">18803.0200</span><span class="t c grn" style="left:204px;top:403.0px">0.000156</span>
<span class="t c red" style="left:55px;top:430.5px">10:31:04</span><span class="t c red" style="left:125px;top:430.5px">18805.1200</span><span class="t c red" style="left:204px;top:430.5px">0.000300</span>
<span class="t c red" style="left:55px;top:458.1px">10:31:04</span><span class="t c red" style="left:125px;top:458.1px">18806.8500</span><span class="t c red" style="left:204px;top:458.1px">0.000600</span>
<span class="t c red" style="left:55px;top:485.7px">10:31:04</span><span class="t c red" style="left:125px;top:485.7px">18806.8500</span><span class="t c red" style="left:204px;top:485.7px">0.020620</span>
<span class="t c grn" style="left:55px;top:513.3px">10:31:04</span><span class="t c grn" style="left:125px;top:513.3px">18806.8600</span><span class="t c grn" style="left:204px;top:513.3px">0.000531</span>
<span class="t c grn" style="left:55px;top:540.9px">10:31:04</span><span class="t c grn" style="left:125px;top:540.9px">18806.4200</span><span class="t c grn" style="left:204px;top:540.9px">0.025000</span>
<span class="t c grn" style="left:55px;top:568.4px">10:31:04</span><span class="t c grn" style="left:125px;top:568.4px">18803.0200</span><span class="t c grn" style="left:204px;top:568.4px">0.425300</span>
<span class="t c grn" style="left:55px;top:596.0px">10:31:04</span><span class="t c grn" style="left:125px;top:596.0px">18803.0200</span><span class="t c grn" style="left:204px;top:596.0px">0.300922</span>

</div>
<!-- ===== BOTTOM LEFT ===== -->
<div id="orders" class="pn" style="left:0;top:670px;width:1561px;height:264px">
<span class="t blue u" style="left:20px;top:18px;font-size:16px">当前委托</span>
<span class="t" style="left:99px;top:18px;font-size:16px">历史委托</span>
<span class="t blue u" style="left:20px;top:54px;font-size:12px">买入</span>
<span class="t" style="left:64px;top:54px;font-size:12px">卖出</span>
<span class="t gry" style="left:20px;top:96px;font-size:12px">时间</span>
<span class="t gry" style="left:476px;top:96px;font-size:12px">交易对</span>
<span class="t gry" style="left:643px;top:96px;font-size:12px">方向</span>
<span class="t gry" style="left:765px;top:96px;font-size:12px">数量</span>
<span class="t gry" style="left:932px;top:96px;font-size:12px">价格</span>
<span class="t gry" style="left:1197px;top:96px;font-size:12px">操作</span>
<div class="abs" style="left:20px;top:121px;width:1521px;height:1px;background:#2d313d"></div>
<svg class="abs" style="left:700px;top:180px" width="160" height="84" viewBox="700 850 160 84" fill="none" stroke="#6a7790" stroke-linecap="round">
<path d="M760 877v-3.5a4 4 0 0 1 4-4h39.5a4 4 0 0 1 4 4v49a4 4 0 0 1-4 4H799M799 926.5h18" stroke-width="3"/>
<rect x="748.3" y="878.8" width="48" height="70" rx="4.5" stroke-width="3" fill="#1a1d27"/>
<path d="M757.5 887h18.5M757.5 894.8h26.5M757.5 902.7h12" stroke-width="3"/>
<circle cx="767.4" cy="918.8" r="9.7" stroke-width="3"/>
<path d="M775 926.5l9 8.5" stroke-width="4"/>
<path d="M740 863.5v8.5M735.8 867.7h8.5" stroke-width="2.8"/>
<path d="M732 914v6M729 917h6M837.6 907.7v6M834.6 910.7h6" stroke-width="1.5"/>
<circle cx="725.9" cy="888.2" r="3.8" stroke-width="2.4"/>
<circle cx="825" cy="879" r="3.8" stroke-width="2.4"/>
<path d="M723 933.6h12M740 933.6h40" stroke-width="2"/>
</svg>

</div>
<!-- ===== BOTTOM RIGHT ===== -->
<div id="acct" class="pn" style="left:1564px;top:670px;width:350px;height:264px">
<span class="t blue u" style="left:20px;top:15px;font-size:16px">币币账户</span>
<span class="t" style="left:298px;top:15px;font-size:16px">划转</span>
<span class="t c" style="left:175px;top:58px;font-size:16px;letter-spacing:.25px">13564601.81716000 USDT</span>
<span class="t c" style="left:175px;top:98px;font-size:16px;letter-spacing:.15px">68.08395000 BTC</span>
<div class="abs" style="left:20px;top:145px;width:309px;height:40px;border:1px solid #5a5d66;border-radius:3px;background:#2e2e30"></div>
<div class="abs" style="left:20px;top:145px;width:155px;height:40px;border-radius:3px 0 0 3px;background:#30b45b"></div>
<span class="t c" style="left:97px;top:158px;font-size:14px;color:#fff">买BTC</span>
<span class="t c" style="left:251px;top:158px;font-size:14px;color:#e4e7ee">卖BTC</span>
<span class="t" style="left:20px;top:222.5px;font-size:16px">限价交易</span>
<span class="t blue u" style="left:114px;top:222.5px;font-size:16px">市价交易</span>

</div>
<!-- scrollbar -->
<div class="abs" style="left:1914px;top:0;width:6px;height:934px;background:#000"></div>
<div class="abs" style="left:1914px;top:0;width:6px;height:565px;background:#2f323e;border-radius:0 0 3px 3px"></div>
</body></html>
